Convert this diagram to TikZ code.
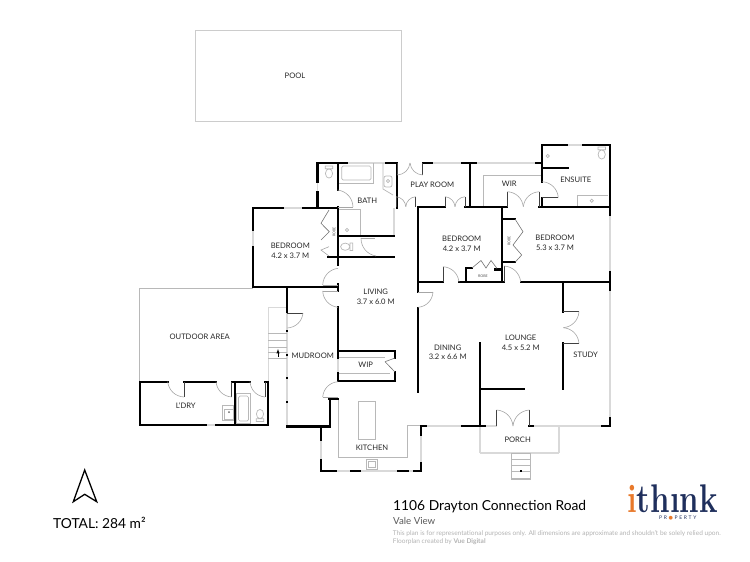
\documentclass[tikz,border=0pt]{standalone}
\usepackage{fontspec}
\setmainfont{Lato}
\newfontfamily\logofont{Latin Modern Roman}
\newfontfamily\symfont{DejaVu Sans}
\definecolor{logonavy}{HTML}{1F2F5C}
\definecolor{logoorange}{HTML}{E8792B}
\tikzset{
	wall/.style={line width=2.1pt,line cap=rect},
	glass/.style={line width=1.8pt,color=black!15},
	fixture/.style={line width=0.7pt,color=black!28},
	door/.style={line width=0.6pt,color=black!35},
	leaf/.style={line width=0.9pt,color=black!75},
	robedoor/.style={line width=0.6pt,color=black!55},
	roomname/.style={font=\fontsize{7.6}{9.8}\selectfont,align=center,text=black!85},
	tiny/.style={font=\fontsize{3.6}{4}\selectfont,text=black!70}
}
\newcommand{\toilet}[3]{\draw [fixture,shift={(#1,#2)},rotate=#3] (-3.8,-6) rectangle (3.8,-3.2) (0,1.5) ellipse (3.6 and 4.6);}
\newcommand{\tap}[2]{\draw [fixture,fill=white] (#1,#2) circle (1.6);}
\begin{document}
\begin{tikzpicture}[x=1pt,y=-1pt]
	\useasboundingbox (0,0) rectangle (750,562);
	\draw [fixture,line width=1.3pt,color=black!20] (195.7,30.7) rectangle (401.7,121.7);
	\foreach \ax/\ay/\bx/\by in {317.5/182/317.5/192, 346.7/163/386/163, 283/208/303/208, 252.7/230/252.7/247, 394/208/394/236, 432/163/462/163, 475.7/163/535.7/163, 566.7/145/583/145, 610/215/610/272, 610/290/610/418, 533/426/602/426, 485/426/497/426, 426/426/462/426, 480/426/480/453.3, 480/453.3/559.3/453.3, 559.3/453.3/559.3/426, 420.7/435/420.7/463, 321/440/321/460, 335.7/471/351/471, 360/471/398/471, 407.7/471/414/471, 206/425/216/425, 287.3/287/287.3/426, 337.7/358/337.7/373}
		\draw [glass] (\ax,\ay) -- (\bx,\by);
	\draw [fixture] (139.3,381) -- (139.3,288.3) -- (252.7,288.3);
	\draw [glass,line width=1.2pt] (287.3,307.3) -- (268.3,307.3) -- (268.3,381);
	\foreach \ty in {333,340,347,352,358}
		\draw [fixture] (268.3,\ty) -- (287.3,\ty);
	\draw [-latex,line width=0.5pt] (278,357) -- (278,349);
	\draw [fixture] (511.7,453.3) rectangle (530.7,479);
	\foreach \ty in {459,465.7,471.7,478.3}
		\draw [fixture] (511.7,\ty) -- (530.7,\ty);
	\fill (520,470) rectangle (522,472);
	\draw [fixture] (483.3,206) -- (483.3,175) -- (542.3,175);
	\draw [fixture] (337.7,357) -- (385,357) (337.7,373) -- (390,373);
	\draw [fixture] (338.3,400) -- (338.3,457.3) -- (407.7,457.3) -- (407.7,425.7) -- (420.7,425.7);
	\draw [fixture] (358.3,401) rectangle (375.7,439.3);
	\draw [fixture] (366,459) rectangle (377.3,469.3);
	\draw [fixture] (368,461) rectangle (375.3,467.5);
	\draw [fixture] (338,183) -- (373,183) -- (373,163);
	\draw [fixture,rounded corners=1.5pt] (341.7,166) rectangle (371,180);
	\draw [fixture] (383,163) -- (383,189) -- (393,195);
	\draw [fixture,rounded corners=2pt] (384,176) rectangle (392,187);
	\tap{388}{181}
	\draw [fixture] (360.7,209) -- (360.7,236);
	\draw [fixture] (338,209) -- (360.7,209);
	\tap{347}{230}
	\toilet{329}{172}{0}
	\toilet{346.7}{246.7}{-90}
	\toilet{601.7}{153}{0}
	\toilet{260}{415.5}{180}
	\tap{547.7}{156}
	\draw [fixture] (577.7,206) -- (577.7,195) -- (608,195);
	\tap{591.7}{200.7}
	\draw [fixture] (222,405) rectangle (233,420);
	\draw [fixture] (224,409) rectangle (233,419);
	\fill [black!60] (229,412) circle (1);
	\draw [fixture] (236.5,393.5) rectangle (250,423);
	\draw [fixture,rounded corners=1.5pt] (238.5,396) rectangle (248.5,421);
	\draw [wall] (317.5,182) -- (317.5,163) -- (346.7,163);
	\draw [wall] (317.5,192) -- (317.5,208);
	\draw [wall] (386,163) -- (397,163) -- (397,208);
	\draw [wall] (337.7,163) -- (337.7,190);
	\draw [wall] (337.7,207) -- (337.7,265);
	\draw [wall] (283,208) -- (252.7,208) -- (252.7,230);
	\draw [wall] (303,208) -- (337.7,208);
	\draw [wall] (252.7,247) -- (252.7,287) -- (337.7,287) -- (337.7,291);
	\draw [wall] (337.7,284) -- (337.7,287);
	\draw [wall] (337.7,236) -- (394,236);
	\draw [wall] (328,256.7) -- (394,256.7);
	\draw [wall] (337.7,307) -- (337.7,358);
	\draw [wall] (337.7,373) -- (337.7,381);
	\draw [wall] (337.7,350.7) -- (395,350.7) -- (395,358);
	\draw [wall] (395,372) -- (395,380.7) -- (337.7,380.7);
	\draw [wall] (329,399) -- (338,399);
	\draw [wall] (330,399) -- (330,426.5) -- (287.3,426.5);
	\draw [wall] (287.3,287) -- (287.3,312);
	\foreach \ty in {330.7,355,378,402}
		\fill (286.3,\ty-1) rectangle (288.3,\ty+1);
	\draw [wall] (321,426.5) -- (321,440);
	\draw [wall] (321,460) -- (321,471) -- (335.7,471);
	\draw [wall] (351,471) -- (360,471);
	\draw [wall] (398,471) -- (407.7,471);
	\draw [wall] (414,471) -- (420.7,471) -- (420.7,463);
	\draw [wall] (420.7,435) -- (420.7,426) -- (426,426);
	\draw [wall] (462,426) -- (485,426);
	\draw [wall] (480,343.3) -- (480,426);
	\draw [wall] (480,389.3) -- (524,389.3);
	\draw [wall] (529.3,426) -- (533,426);
	\draw [wall] (602,426) -- (610,426) -- (610,418);
	\draw [wall] (563.3,282) -- (563.3,311.7);
	\draw [wall] (563.3,343.3) -- (563.3,389.3);
	\draw [wall] (418.3,206.7) -- (418.3,292);
	\draw [wall] (418.3,308) -- (418.3,391.7);
	\draw [wall] (418.3,282) -- (443,282);
	\draw [wall] (459,282) -- (504,282);
	\draw [wall] (520.7,282) -- (610,282);
	\draw [wall] (610,145) -- (610,215);
	\draw [wall] (610,272) -- (610,290);
	\draw [wall] (418.3,206.7) -- (445,206.7);
	\draw [wall] (465,206.7) -- (507.3,206.7);
	\draw [wall] (539.3,206.7) -- (610,206.7);
	\draw [wall] (502,206.7) -- (502,282);
	\draw [wall] (502,219) -- (515,219);
	\draw [wall] (502,262.3) -- (515,262.3);
	\draw [wall] (466,282) -- (466,268.3) -- (472,268.3);
	\draw [wall] (495,269.5) -- (502,269.5);
	\draw [wall] (470,163) -- (470,206.7);
	\draw [wall] (422.7,163) -- (432,163);
	\draw [wall] (462,163) -- (475.7,163);
	\draw [wall] (535.7,163) -- (542.3,163);
	\draw [wall] (542.3,181.7) -- (542.3,145) -- (566.7,145);
	\draw [wall] (583,145) -- (610,145);
	\draw [wall] (542.3,168.3) -- (568.3,168.3);
	\draw [wall] (542.3,198) -- (542.3,206.7);
	\draw [wall] (206,425) -- (140,425) -- (140,381.7) -- (167.7,381.7);
	\draw [wall] (184,381.7) -- (216,381.7);
	\draw [wall] (231.7,381.7) -- (250,381.7);
	\draw [wall] (265,381.7) -- (268.3,381.7) -- (268.3,425) -- (216,425);
	\draw [wall] (235.3,381.7) -- (235.3,425);
	\foreach \ax/\ay/\bx/\by in {184/382/184/397, 231.7/382/231.7/397, 265/382/265/397, 287.3/313/303/313, 542.3/197.5/558.3/197.5, 422.7/163/422.7/175, 507.3/206.7/507.3/191.7, 539.3/206.7/539.3/191.7, 396/206.7/396/196.7, 415.7/206.7/415.7/196.7, 445/206.7/445/196.7, 465/206.7/465/196.7, 397.3/163/397.3/175, 496.7/426/496.7/410, 529.3/426/529.3/410, 563.3/311.7/579/311.7, 563.3/343.3/579/343.3, 443/282/443/266.7, 504/282/504/266}
		\draw [leaf] (\ax,\ay) -- (\bx,\by);
	\foreach \ax/\ay/\bx/\by in {322.7/285/337.7/285, 322.7/291/337.7/291, 418.3/292/433/292, 322.7/397/337.7/397, 361/238/375/238, 337.7/207/353/207}
		\draw [door] (\ax,\ay) -- (\bx,\by);
	\foreach \ax/\ay/\bx/\by in {443/266.7/459/282, 504/266/520.7/282, 337.7/190/353/207, 376/256/361/238, 542.3/181.7/558.3/197.5, 322.7/285/338/268.3, 338/307.3/322.7/291, 433/292/418.3/307.3, 303/313/287.3/328, 322.7/397/338/381.7, 184/397/167.7/381.7, 231.7/397/216/381.7, 265/397/250/381.7, 579/311.7/563.3/327.7, 563.3/327.7/579/343.3, 396/196.7/405.8/206.7, 405.8/206.7/415.7/196.7, 445/196.7/455/206.7, 455/206.7/465/196.7, 507.3/191.7/523.3/206.7, 523.3/206.7/539.3/191.7, 496.7/410/513/426, 513/426/529.3/410, 410/163/397.3/175, 422.7/175/410/163}
		\draw [door] (\ax,\ay) to [bend left=40] (\bx,\by);
	\draw [robedoor] (515,219) -- (523,231.7) -- (513,245) -- (521.7,255) -- (515,262.3);
	\draw [robedoor] (472,268) -- (481,260.5) -- (486,268) -- (491,260.5) -- (497,268.5);
	\draw [robedoor] (329,210) -- (321,223.3) -- (329.3,231.7) -- (321,240);
	\draw [robedoor,color=black!35] (329,246.7) -- (321,250) -- (329,256);
	\draw [robedoor] (385,361.7) -- (395,358) (385,361.7) -- (395,372);
	\node [roomname] (pool) at (295,75.7) {POOL};
	\node [roomname] (bath) at (367.3,200.3) {BATH};
	\node [roomname] (playroom) at (432.3,184.3) {PLAY ROOM};
	\node [roomname] (wir) at (509.3,184) {WIR};
	\node [roomname] (ensuite) at (575.7,180) {ENSUITE};
	\node [roomname] (bedroomb) at (461.7,244) {BEDROOM\\4.2 x 3.7 M};
	\node [roomname] (bedroomc) at (555,243) {BEDROOM\\5.3 x 3.7 M};
	\node [roomname] (bedrooma) at (290.3,250.7) {BEDROOM\\4.2 x 3.7 M};
	\node [roomname] (living) at (375.7,297) {LIVING\\3.7 x 6.0 M};
	\node [roomname] (dining) at (447.7,352.3) {DINING\\3.2 x 6.6 M};
	\node [roomname] (lounge) at (520.7,343) {LOUNGE\\4.5 x 5.2 M};
	\node [roomname] (study) at (585.7,355) {STUDY};
	\node [roomname] (mudroom) at (312.7,355.7) {MUDROOM};
	\node [roomname] (wip) at (365.7,365) {WIP};
	\node [roomname] (outdoor) at (199.7,336.7) {OUTDOOR AREA};
	\node [roomname] (ldry) at (185.7,406) {L`DRY};
	\node [roomname] (kitchen) at (372,447.3) {KITCHEN};
	\node [roomname] (porch) at (517.7,439.3) {PORCH};
	\node [tiny,rotate=90] (robea) at (334,231.7) {ROBE};
	\node [tiny,rotate=90] (robeb) at (509,241) {ROBE};
	\node [tiny] (robec) at (483,276.7) {ROBE};
	\draw [line width=1.3pt,line join=miter] (84.7,470) -- (73.3,501.7) -- (84.7,494.3) -- (96.7,501.7) -- cycle;
	\node [anchor=west,inner sep=0pt,font=\fontsize{13.8}{15}\selectfont] (total) at (53,522.7) {TOTAL: 284 m²};
	\node [anchor=west,inner sep=0pt,font=\fontsize{13.8}{15}\selectfont] (address) at (393,506.7) {1106 Drayton Connection Road};
	\node [anchor=west,inner sep=0pt,font=\fontsize{9.7}{11}\selectfont,text=black!65] (suburb) at (393,520.7) {Vale View};
	\node [anchor=west,inner sep=0pt,font=\fontsize{6.55}{7}\selectfont,text=black!30] (disclaimer) at (392.7,533.5) {This plan is for representational purposes only. All dimensions are approximate and shouldn't be solely relied upon.};
	\node [anchor=west,inner sep=0pt,font=\fontsize{6.55}{7}\selectfont,text=black!30] (credit) at (392.7,541.5) {Floorplan created by \textbf{Vue Digital}};
	\node [anchor=base west,inner sep=0pt,xscale=0.78,font=\logofont\bfseries\fontsize{40}{40}\selectfont,text=logonavy] (logo) at (627,512) {\textcolor{logoorange}{i}th\i nk};
	\node [anchor=west,inner sep=0pt,font=\fontsize{5}{6}\selectfont,text=logonavy] (logotag) at (659,518.5) {P\,\,R\,\,{\symfont\textcolor{logoorange}{●}}\,\,P\,\,E\,\,R\,\,T\,\,Y};
\end{tikzpicture}
\end{document}
